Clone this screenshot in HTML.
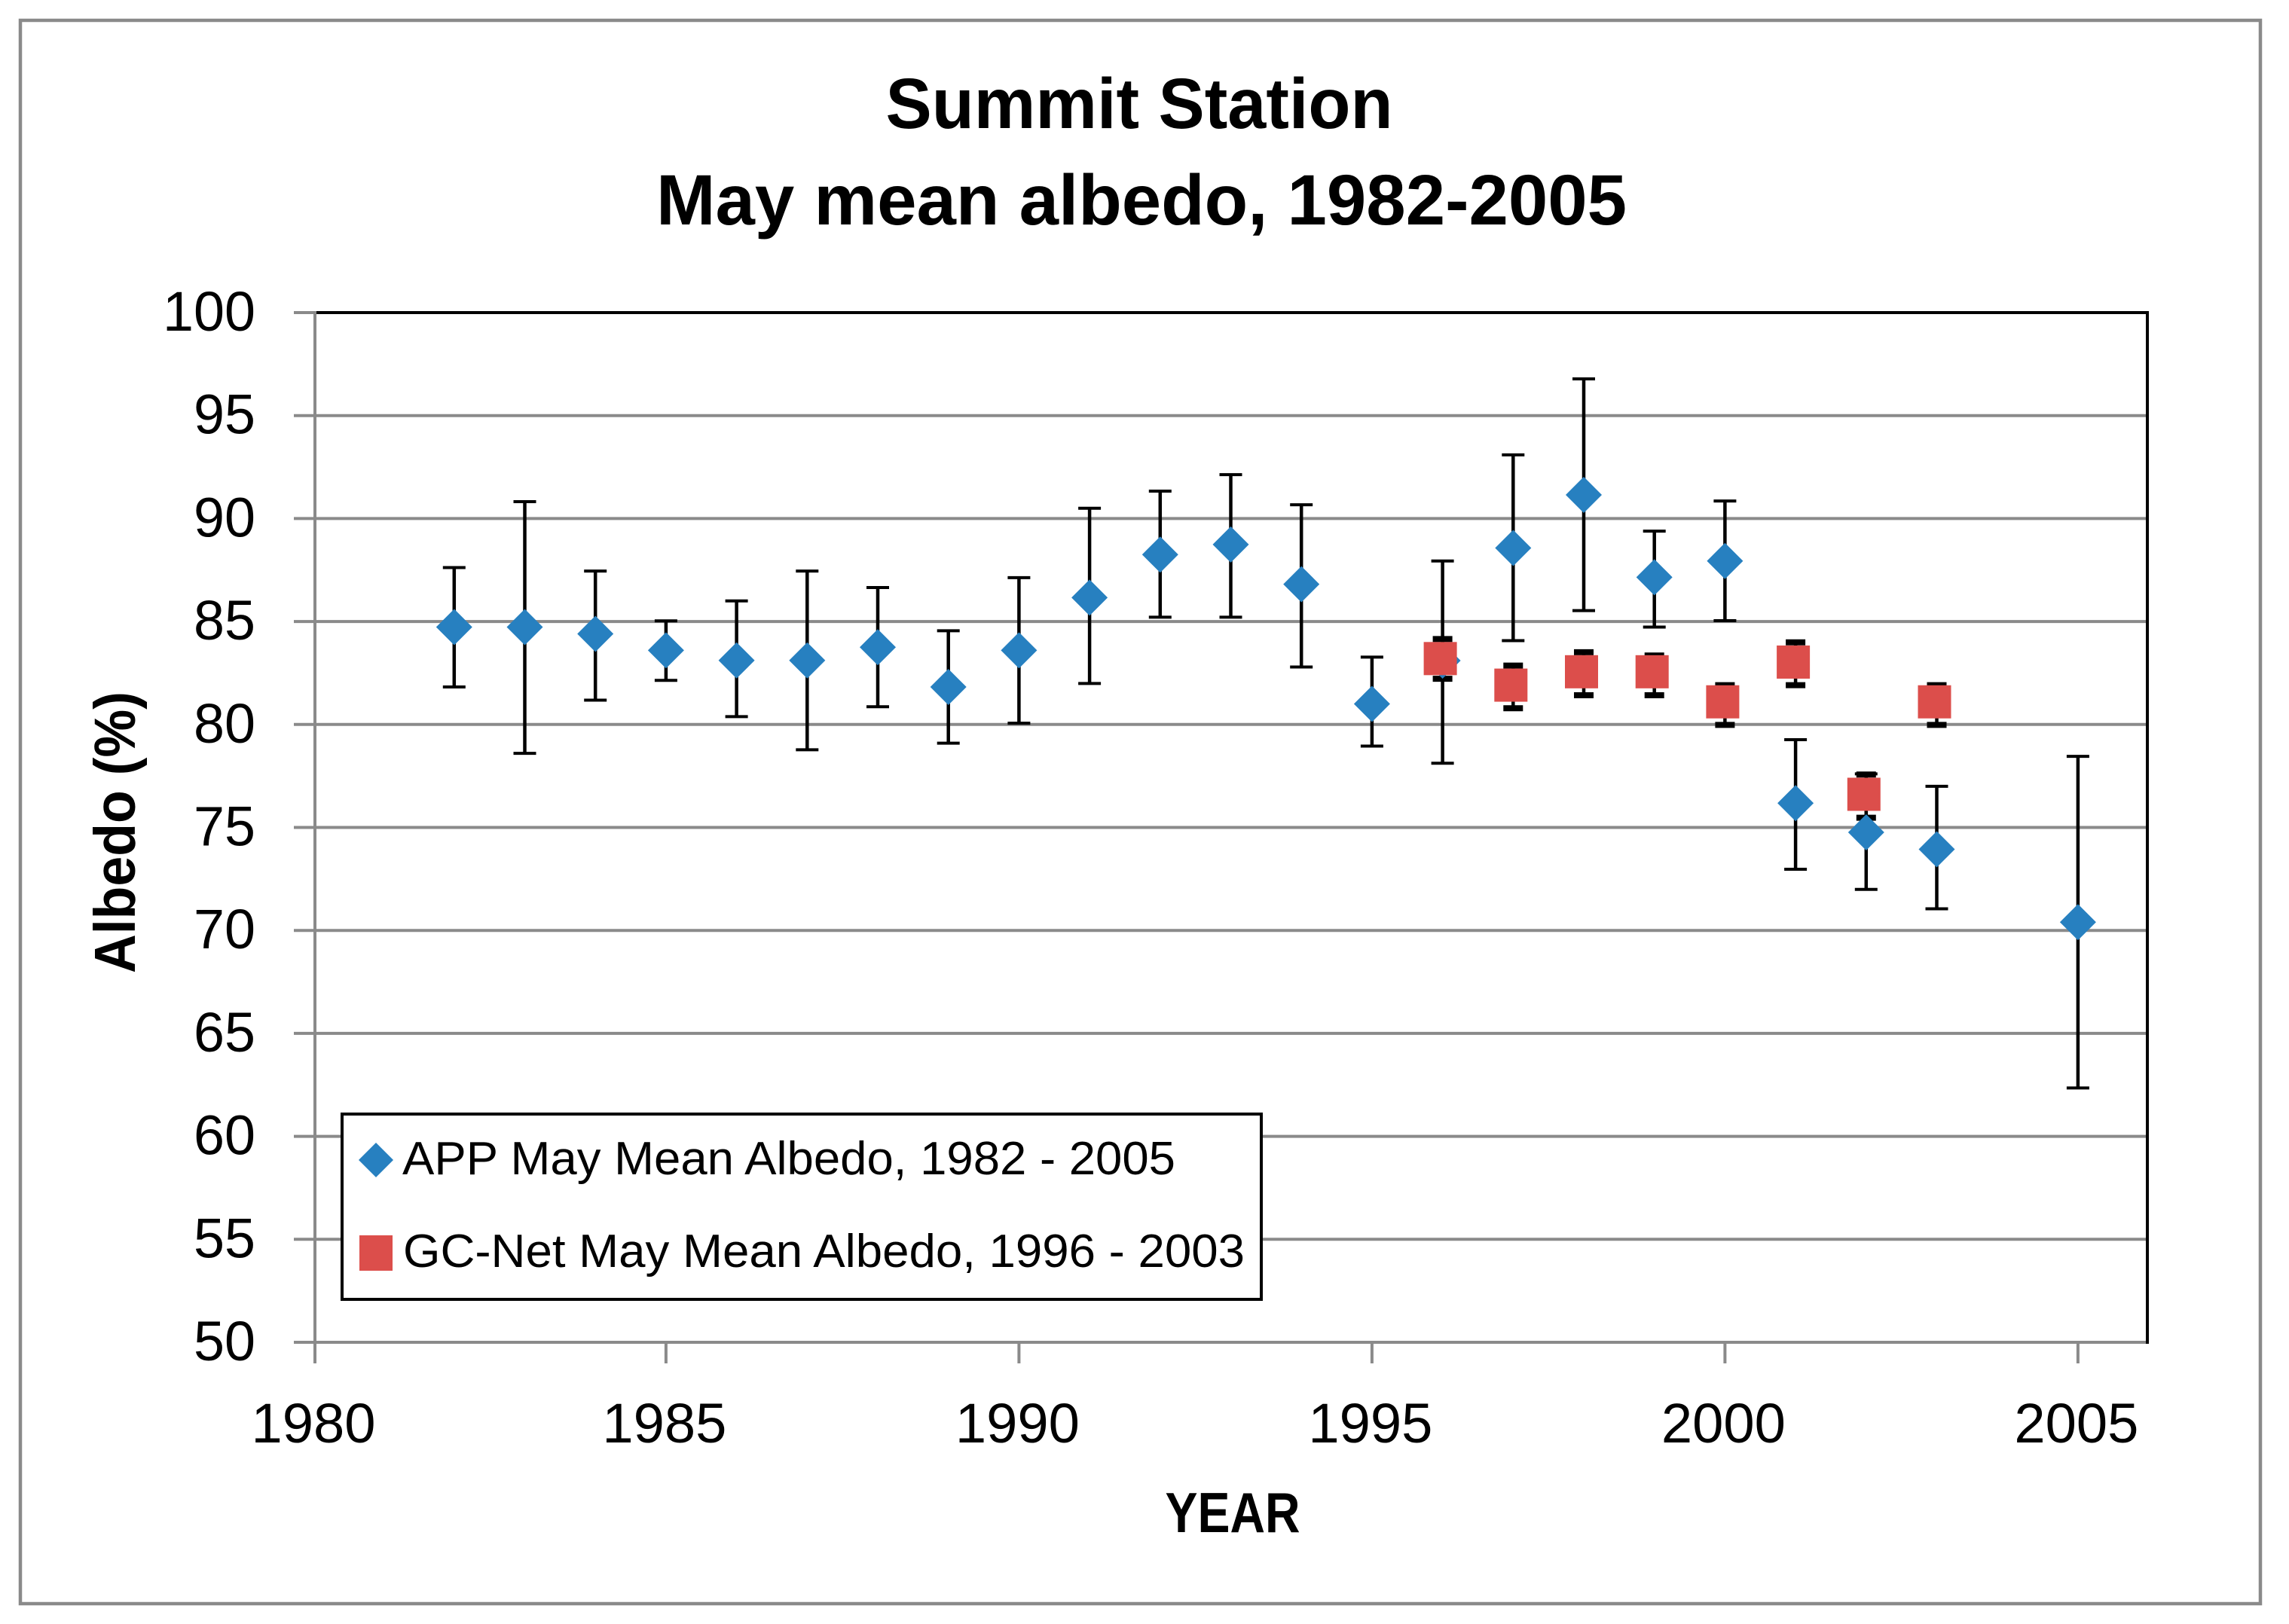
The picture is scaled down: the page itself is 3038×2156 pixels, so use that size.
<!DOCTYPE html>
<html lang="en">
<head>
<meta charset="utf-8">
<title>Summit Station May mean albedo</title>
<style>
html,body{margin:0;padding:0;background:#fff;}
svg{display:block;}
text{font-family:"Liberation Sans",sans-serif;fill:#000;}
</style>
</head>
<body>
<svg id="chart" xmlns="http://www.w3.org/2000/svg" width="3038" height="2156" viewBox="0 0 3038 2156">
  <rect x="0" y="0" width="3038" height="2156" fill="#ffffff"/>
  <rect x="27" y="27" width="2973" height="2102" fill="#ffffff" stroke="#8a8a8a" stroke-width="4.5"/>
  <text x="1512" y="170" font-size="95" font-weight="bold" text-anchor="middle" textLength="673" lengthAdjust="spacingAndGlyphs">Summit Station</text>
  <text x="1515" y="298" font-size="95" font-weight="bold" text-anchor="middle" textLength="1288" lengthAdjust="spacingAndGlyphs">May mean albedo, 1982-2005</text>
  <text transform="translate(179,1292) rotate(-90)" font-size="77" font-weight="bold" textLength="374" lengthAdjust="spacingAndGlyphs">Albedo (%)</text>
  <text x="1636" y="2034" font-size="75" font-weight="bold" text-anchor="middle" textLength="179" lengthAdjust="spacingAndGlyphs">YEAR</text>
  <g id="axes"></g>
  <g id="marks"></g>
  <g>
    <rect x="454" y="1479" width="1220" height="246" fill="#ffffff" stroke="#000000" stroke-width="4"/>
    <polygon points="499,1517 522,1540 499,1563 476,1540" fill="#2780c0"/>
    <text x="534" y="1559" font-size="62" textLength="1026" lengthAdjust="spacingAndGlyphs">APP May Mean Albedo, 1982 - 2005</text>
    <rect x="477" y="1640" width="44" height="47" fill="#dc4e4b"/>
    <text x="535" y="1682" font-size="62" textLength="1117" lengthAdjust="spacingAndGlyphs">GC-Net May Mean Albedo, 1996 - 2003</text>
  </g>
</svg>
<script>
// ---- chart data ----
const yTickLabels = [100, 95, 90, 85, 80, 75, 70, 65, 60, 55, 50];
const xTickLabels = [1980, 1985, 1990, 1995, 2000, 2005];

const appYears = [1982, 1983, 1984, 1985, 1986, 1987, 1988, 1989, 1990, 1991, 1992, 1993, 1994, 1995, 1996, 1997, 1998, 1999, 2000, 2001, 2002, 2003, 2005];
const appMean = [84.73, 84.73, 84.40, 83.60, 83.11, 83.11, 83.75, 81.82, 83.60, 86.16, 88.25, 88.74, 86.81, 81.00, 83.10, 88.57, 91.15, 87.15, 87.94, 76.18, 74.76, 73.94, 70.40];
const appHigh = [87.62, 90.82, 87.45, 85.03, 86.00, 87.45, 86.65, 84.55, 87.13, 90.50, 91.33, 92.13, 90.67, 83.27, 87.94, 93.09, 96.78, 89.39, 90.85, 79.26, 77.60, 77.00, 78.45];
const appLow = [81.82, 78.60, 81.18, 82.14, 80.38, 78.77, 80.86, 79.09, 80.06, 81.99, 85.21, 85.21, 82.79, 78.95, 78.12, 84.07, 85.53, 84.73, 85.04, 72.97, 71.99, 71.05, 62.35];

const gcYears = [1996, 1997, 1998, 1999, 2000, 2001, 2002, 2003];
const gcMean = [83.20, 81.91, 82.56, 82.56, 81.10, 83.03, 76.61, 81.10];
const gcHigh = [84.15, 82.86, 83.51, 83.35, 81.91, 83.99, 77.57, 81.91];
const gcLow = [82.22, 80.79, 81.42, 81.42, 79.98, 81.91, 75.47, 79.98];

// ---- axis functions ----
const plotLeft = 418;
const plotRight = 2850;
const plotTop = 415;
const plotBottom = 1782;
function xScale(year) { return 415.4 + (year - 1980) * 93.7; }
function yScale(value) { return plotTop + (100 - value) * (plotBottom - plotTop) / 50; }

const NS = 'http://www.w3.org/2000/svg';
const GRAY = '#8a8a8a';
const axes = document.getElementById('axes');
const marks = document.getElementById('marks');

function make(tag, attrs, parent) {
  const el = document.createElementNS(NS, tag);
  for (const k in attrs) el.setAttribute(k, attrs[k]);
  parent.appendChild(el);
  return el;
}

// ---- horizontal gridlines, y ticks, y labels ----
yTickLabels.forEach(function (v) {
  const y = yScale(v);
  const tick = make('line', {x1: 390, x2: plotLeft, y1: y, y2: y, stroke: GRAY, 'stroke-width': 4}, axes);
  
  
  const grid = make('line', {x1: plotLeft, x2: plotRight, y1: y, y2: y, stroke: v === 100 ? '#000000' : GRAY, 'stroke-width': 4}, axes);
  
  
  const label = make('text', {x: 339, y: y + 24, 'font-size': 74, 'text-anchor': 'end', textLength: String(v).length * 41, lengthAdjust: 'spacingAndGlyphs'}, axes);
  
  
  label.textContent = v;
});

// ---- axis lines ----
const leftAxis = make('line', {x1: plotLeft, x2: plotLeft, y1: plotTop - 2, y2: 1810, stroke: GRAY, 'stroke-width': 4}, axes);


const rightBorder = make('line', {x1: plotRight, x2: plotRight, y1: plotTop - 2, y2: plotBottom + 2, stroke: '#000000', 'stroke-width': 4}, axes);



// ---- x ticks and labels ----
xTickLabels.forEach(function (yr) {
  const x = yr === 1980 ? plotLeft : xScale(yr);
  const tick = make('line', {x1: x, x2: x, y1: plotBottom, y2: 1810, stroke: GRAY, 'stroke-width': 4}, axes);
  
  
  const label = make('text', {x: x - 2, y: 1915, 'font-size': 74, 'text-anchor': 'middle', textLength: 165, lengthAdjust: 'spacingAndGlyphs'}, axes);
  
  
  label.textContent = yr;
});

// ---- error bars ----
function drawError(year, high, low, capHalf, capWidth, name) {
  const x = xScale(year);
  const stem = make('line', {x1: x, x2: x, y1: yScale(high), y2: yScale(low), stroke: '#000000', 'stroke-width': 4.5}, marks);
  
  
  const top = make('line', {x1: x - capHalf, x2: x + capHalf, y1: yScale(high), y2: yScale(high), stroke: '#000000', 'stroke-width': capWidth}, marks);
  
  
  const bottom = make('line', {x1: x - capHalf, x2: x + capHalf, y1: yScale(low), y2: yScale(low), stroke: '#000000', 'stroke-width': capWidth}, marks);
  
  
}

gcYears.forEach(function (yr, i) {
  drawError(yr, gcHigh[i], gcLow[i], 13, 8, 'gc-net');
});
appYears.forEach(function (yr, i) {
  drawError(yr, appHigh[i], appLow[i], 15, 4, 'app');
});

// ---- markers ----
appYears.forEach(function (yr, i) {
  const cx = xScale(yr);
  const cy = yScale(appMean[i]);
  const r = 24;
  const pts = [cx, cy - r, cx + r, cy, cx, cy + r, cx - r, cy].join(' ');
  const d = make('polygon', {points: pts, fill: '#2780c0'}, marks);
  
  
});
gcYears.forEach(function (yr, i) {
  const size = 44;
  const sq = make('rect', {x: xScale(yr) - 3 - size / 2, y: yScale(gcMean[i]) - size / 2, width: size, height: size, fill: '#dc4e4b'}, marks);
  
  
});
</script>
</body>
</html>
